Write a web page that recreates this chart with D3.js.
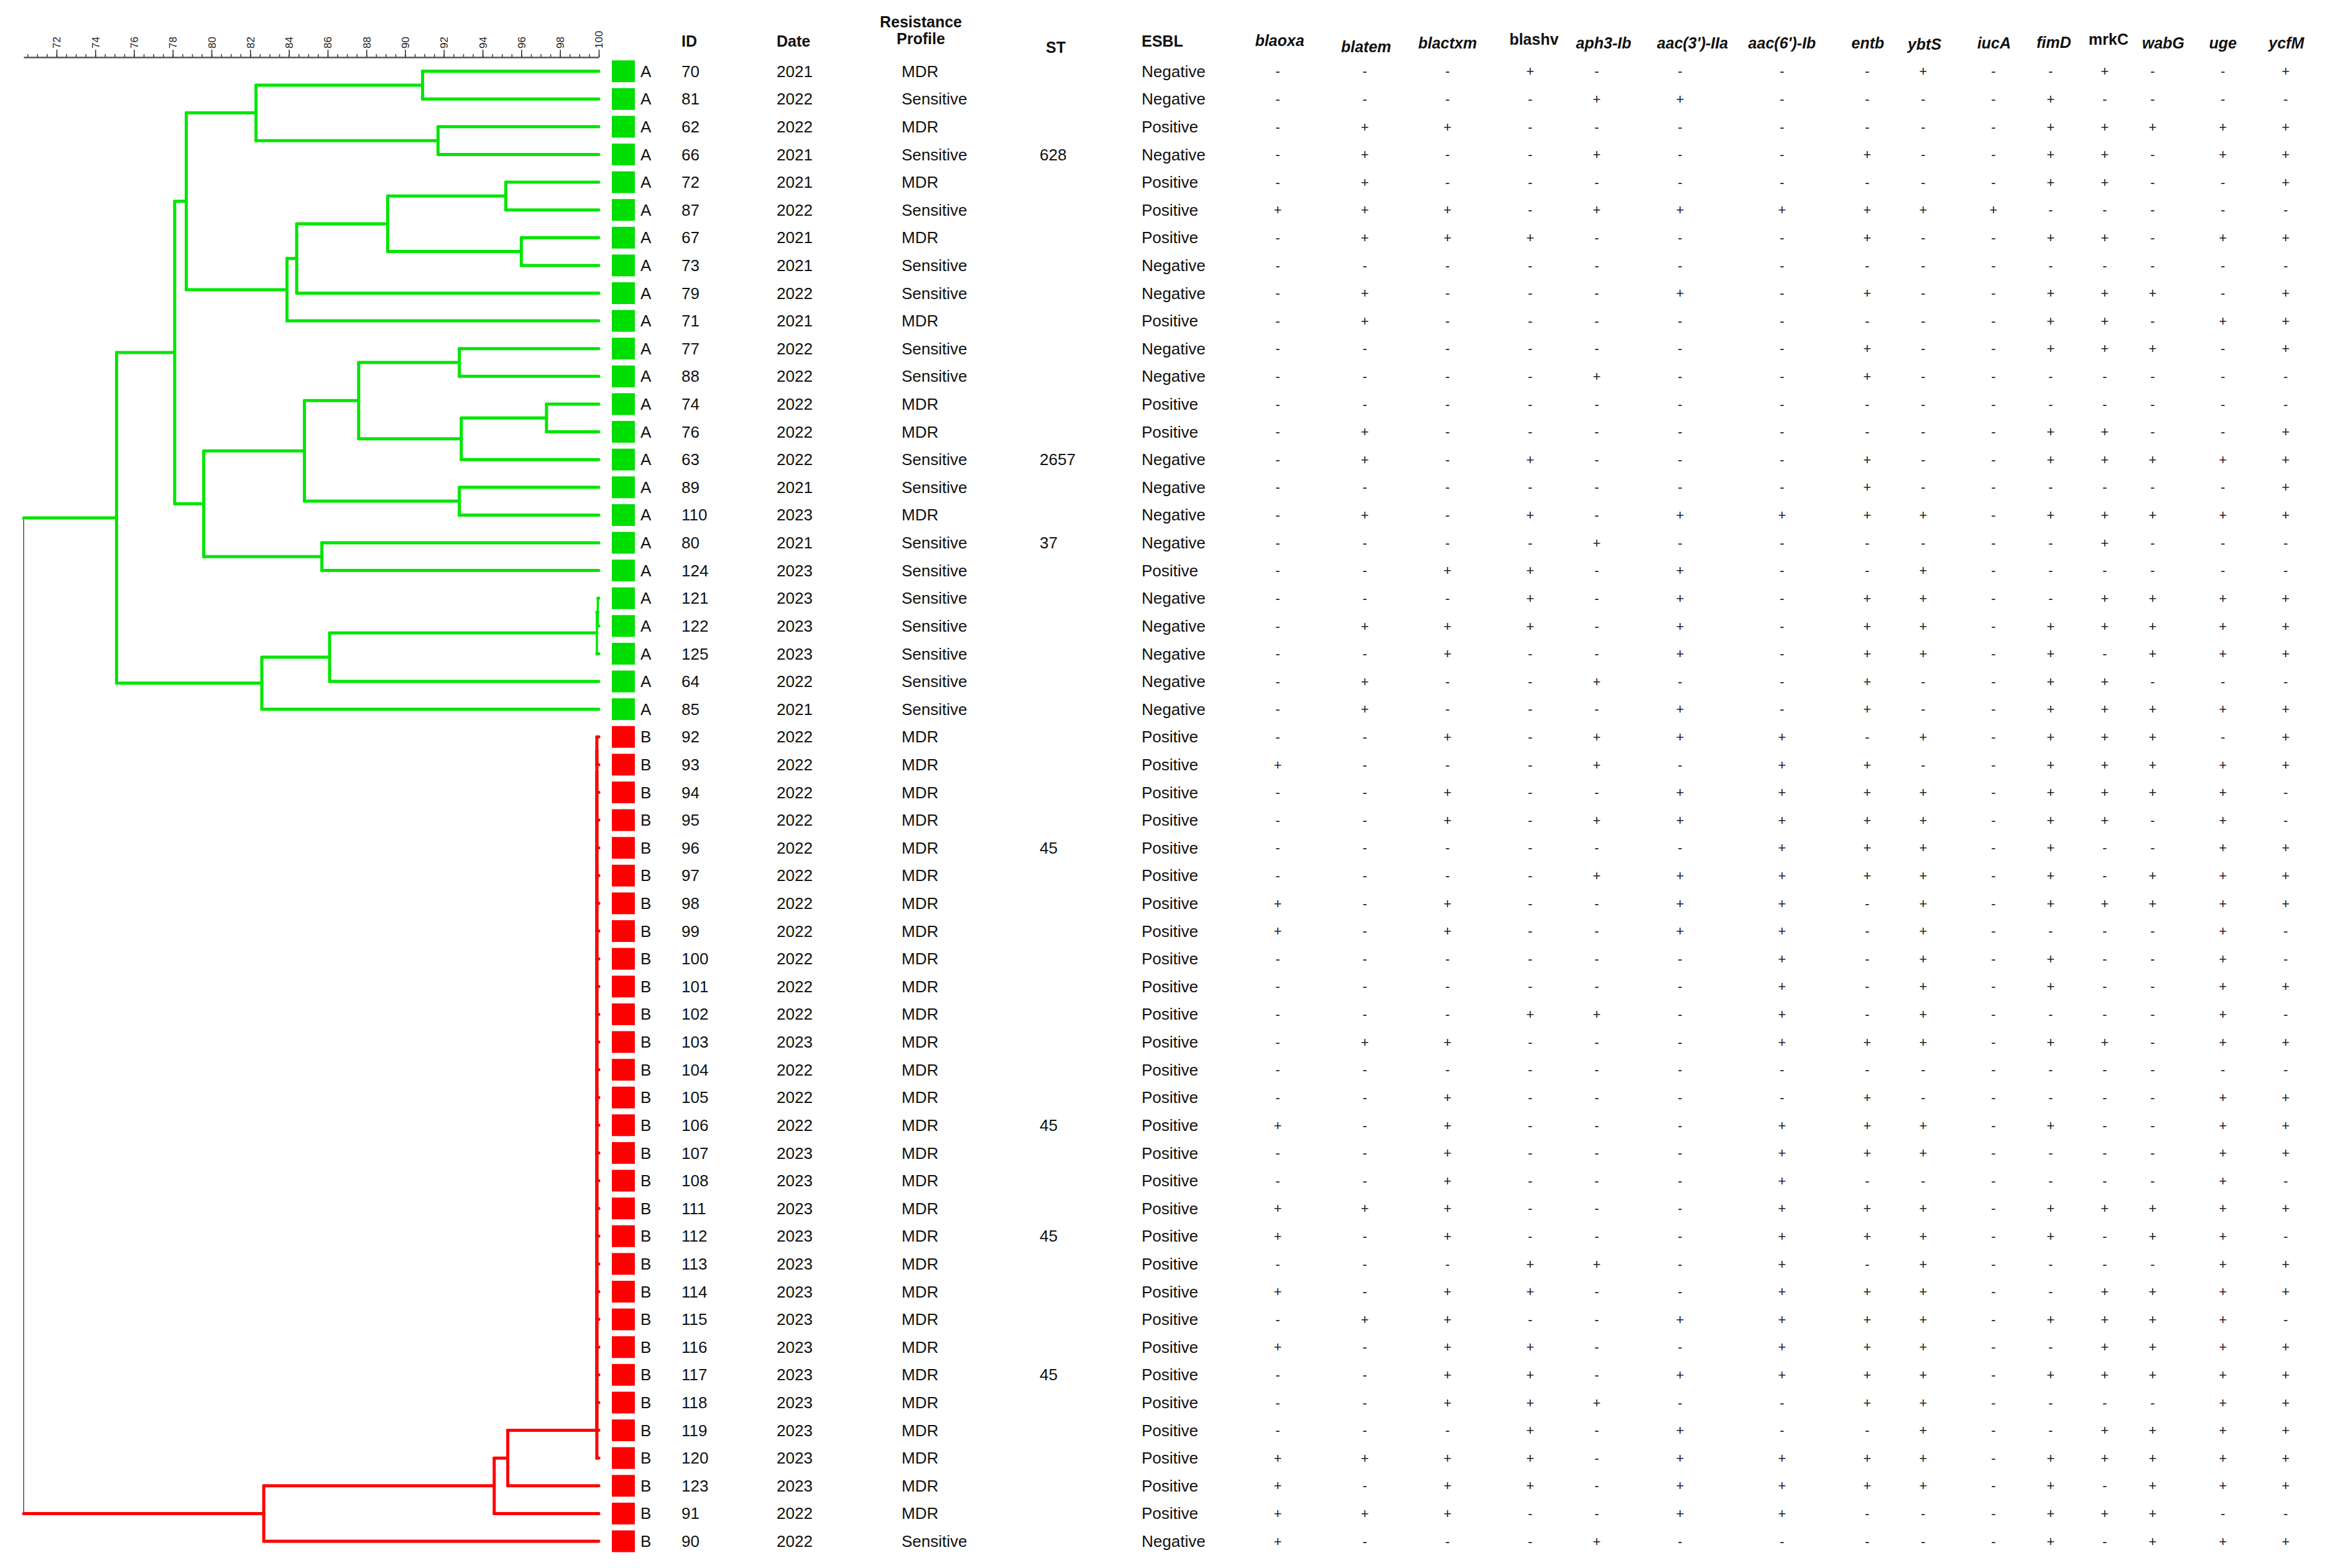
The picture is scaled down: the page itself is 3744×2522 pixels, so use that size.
<!DOCTYPE html>
<html>
<head>
<meta charset="utf-8">
<script src="https://cdn.jsdelivr.net/npm/d3@7"></script>
<style>
  body { margin: 0; background: #fff; }
  svg { display: block; font-family: "Liberation Sans", Arial, sans-serif; }
</style>
</head>
<body>
<svg id="chart" width="3744" height="2522"></svg>
<script>
// isolates in dendrogram order, top to bottom
const ids = ["70","81","62","66","72","87","67","73","79","71","77","88","74","76","63","89","110","80","124","121","122","125","64","85",
  "92","93","94","95","96","97","98","99","100","101","102","103","104","105","106","107","108","111","112","113","114","115","116","117","118","119","120","123","91","90"];
const clusters = "AAAAAAAAAAAAAAAAAAAAAAAABBBBBBBBBBBBBBBBBBBBBBBBBBBBBB".split("");
const years = ["2021","2022","2022","2021","2021","2022","2021","2021","2022","2021","2022","2022","2022","2022","2022","2021","2023","2021","2023","2023","2023","2023","2022","2021",
  "2022","2022","2022","2022","2022","2022","2022","2022","2022","2022","2022","2023","2022","2022","2022","2023","2023","2023","2023","2023","2023","2023","2023","2023","2023","2023","2023","2023","2022","2022"];
const profiles = ["MDR","Sensitive","MDR","Sensitive","MDR","Sensitive","MDR","Sensitive","Sensitive","MDR","Sensitive","Sensitive","MDR","MDR","Sensitive","Sensitive","MDR","Sensitive","Sensitive","Sensitive","Sensitive","Sensitive","Sensitive","Sensitive",
  "MDR","MDR","MDR","MDR","MDR","MDR","MDR","MDR","MDR","MDR","MDR","MDR","MDR","MDR","MDR","MDR","MDR","MDR","MDR","MDR","MDR","MDR","MDR","MDR","MDR","MDR","MDR","MDR","MDR","Sensitive"];
const stTypes = ["","","","628","","","","","","","","","","","2657","","","37","","","","","","",
  "","","","","45","","","","","","","","","","45","","","","45","","","","","45","","","","","",""];
const esbl = ["Negative","Negative","Positive","Negative","Positive","Positive","Positive","Negative","Negative","Positive","Negative","Negative","Positive","Positive","Negative","Negative","Negative","Negative","Positive","Negative","Negative","Negative","Negative","Negative",
  "Positive","Positive","Positive","Positive","Positive","Positive","Positive","Positive","Positive","Positive","Positive","Positive","Positive","Positive","Positive","Positive","Positive","Positive","Positive","Positive","Positive","Positive","Positive","Positive","Positive","Positive","Positive","Positive","Positive","Negative"];

const genes = ["blaoxa","blatem","blactxm","blashv","aph3-Ib","aac(3')-IIa","aac(6')-Ib","entb","ybtS","iucA","fimD","mrkC","wabG","uge","ycfM"];
// one string per isolate, one character per gene
const geneCalls = [
  "---+----+--+--+", "----++----+----", "-++-------+++++", "-+--+--+--++-++", "-+--------++--+",
  "+++-++++++-----", "-+++---+--++-++", "---------------", "-+---+-+--+++-+", "-+--------++-++",
  "-------+--+++-+", "----+--+-------", "---------------", "-+--------++--+", "-+-+---+--+++++",
  "-------+------+", "-+-+-++++-+++++", "----+------+---", "--++-+--+------", "---+-+-++--++++",
  "-+++-+-++-+++++", "--+--+-++-+-+++", "-+--+--+--++---", "-+---+-+--+++++",
  "--+-+++-+-+++-+", "+---+-++--+++++", "--+--++++-++++-", "--+-+++++-++-+-", "------+++-+--++",
  "----+++++-+-+++", "+-+--++-+-+++++", "+-+--++-+----+-", "------+-+-+--+-", "------+-+-+--++",
  "---++-+-+----+-", "-++---+++-++-++", "---------------", "--+----+-----++", "+-+---+++-+--++",
  "--+---+++----++", "--+---+------+-", "+++---+++-+++++", "+-+---+++-+-++-", "---++-+-+----++",
  "+-++--+++--++++", "-++--++++-++++-", "+-++--+++--++++", "--++-++++-+++++", "--+++--++----++",
  "---+-+--+--++++", "++++-++++-+++++", "+-++-++++-+-+++", "+++--++---+++--", "+---+-----+-+++"
];

// dendrogram: [left, right, similarity %]
const groupA1 = [
  [[70, 81, 90.9], [62, 66, 91.7], 82.3],
  [[[[72, 87, 95.2], [67, 73, 96.0], 89.1], 79, 84.4], 71, 83.9],
  78.7
];
const groupA2 = [
  [[[77, 88, 92.8], [[74, 76, 97.3], 63, 92.9], 87.6], [89, 110, 92.8], 84.8],
  [80, 124, 85.7],
  79.6
];
const groupA3 = [[[[121, 122, 99.95], 125, 99.9], 64, 86.1], 85, 82.6];
const clusterA = [[groupA1, groupA2, 78.1], groupA3, 75.1];

const bComb = [92,93,94,95,96,97,98,99,100,101,102,103,104,105,106,107,108,111,112,113,114,115,116,117,118,119,120];
const bCombSim = 99.9;
const bTail = [[123, 95.3], [91, 94.6], [90, 82.7]];
const rootSim = 70.3;

const simTicks = [72,74,76,78,80,82,84,86,88,90,92,94,96,98,100];

// ---- layout ----
const green = "#00e600", red = "#ff0000";
const colX = {square: 984, letter: 1030, id: 1096, date: 1249, profile: 1450, st: 1672, esbl: 1836};
const geneX = [2055, 2195, 2328, 2461, 2568, 2702, 2866, 3003, 3093, 3206, 3298, 3385, 3462, 3575, 3676];
const geneHeadX = [2058, 2197, 2328, 2467, 2579, 2722, 2866, 3004, 3095, 3207, 3303, 3391, 3479, 3575, 3677];
const geneHeadY = [74, 84, 78, 72, 78, 78, 78, 78, 80, 78, 77, 72, 78, 78, 78];
const uprightGenes = ["blashv", "mrkC"];

const svg = d3.select("#chart");
svg.append("rect").attr("width", 3744).attr("height", 2522).attr("fill", "#fff");

const x = d3.scaleLinear().domain([rootSim, 100]).range([38, 963]);
const y = d3.scalePoint().domain(ids).range([114.6, 2479]);
const clusterOf = new Map(ids.map((id, i) => [id, clusters[i]]));

// build the tree
let clusterB = bComb.slice(1).reduce((acc, id) => [acc, id, bCombSim], bComb[0]);
clusterB = bTail.reduce((acc, [id, s]) => [acc, id, s], clusterB);
const tree = [clusterA, clusterB, rootSim];

const root = d3.hierarchy(tree, d => Array.isArray(d) ? d.slice(0, 2) : null);
root.eachAfter(n => {
  n.sim = n.children ? n.data[2] : 100;
  n.py = n.children ? d3.mean(n.children, c => c.py) : y(String(n.data));
  const set = new Set(n.leaves().map(l => clusterOf.get(String(l.data))));
  n.cl = set.size === 1 ? [...set][0] : "mix";
});
const colorOf = c => c === "A" ? green : c === "B" ? red : "#777";

// axis
const axisG = svg.append("g").attr("transform", "translate(0,92)");
axisG.append("g")
  .call(d3.axisTop(x).ticks(60).tickSize(5).tickSizeOuter(0).tickFormat(""))
  .call(g => g.selectAll("line").attr("stroke", "#444").attr("stroke-width", 1.6))
  .call(g => g.select(".domain").attr("stroke", "#555").attr("stroke-width", 2.5));
axisG.append("g")
  .call(d3.axisTop(x).tickValues(simTicks).tickSize(12).tickSizeOuter(0))
  .call(g => g.select(".domain").remove())
  .call(g => g.selectAll("line").attr("stroke", "#333").attr("stroke-width", 1.6))
  .call(g => g.selectAll("text")
    .attr("transform", "rotate(-90)")
    .attr("x", 14).attr("y", 0).attr("dy", "0.35em")
    .attr("text-anchor", "start")
    .attr("fill", "#222")
    .style("font-size", "17px")
    .style("font-family", "'Liberation Sans', Arial, sans-serif"));

// dendrogram branches
const treeG = svg.append("g").attr("fill", "none").attr("stroke-linecap", "round");
treeG.selectAll("line.v")
  .data(root.descendants().filter(n => n.children))
  .join("line")
  .attr("class", "v")
  .attr("x1", n => x(n.sim)).attr("x2", n => x(n.sim))
  .attr("y1", n => d3.min(n.children, c => c.py))
  .attr("y2", n => d3.max(n.children, c => c.py))
  .attr("stroke", n => colorOf(n.cl))
  .attr("stroke-width", n => n.cl === "mix" ? 2 : (n.sim > 99.8 && n.cl === "A" ? 3.5 : 5));
treeG.selectAll("line.h")
  .data(root.descendants().filter(n => n.parent))
  .join("line")
  .attr("class", "h")
  .attr("x1", n => x(n.parent.sim)).attr("x2", n => x(n.sim))
  .attr("y1", n => n.py).attr("y2", n => n.py)
  .attr("stroke", n => colorOf(n.cl))
  .attr("stroke-width", 5);

// table header
const head = svg.append("g")
  .attr("font-weight", "bold").attr("font-size", 25).attr("fill", "#111");
head.append("text").attr("x", colX.id).attr("y", 75).text("ID");
head.append("text").attr("x", colX.date).attr("y", 75).text("Date");
head.append("text").attr("x", 1481).attr("y", 44).attr("text-anchor", "middle").text("Resistance");
head.append("text").attr("x", 1481).attr("y", 71).attr("text-anchor", "middle").text("Profile");
head.append("text").attr("x", 1698).attr("y", 85).attr("text-anchor", "middle").text("ST");
head.append("text").attr("x", colX.esbl).attr("y", 75).text("ESBL");
head.selectAll("text.gene")
  .data(genes)
  .join("text")
  .attr("class", "gene")
  .attr("x", (g, i) => geneHeadX[i])
  .attr("y", (g, i) => geneHeadY[i])
  .attr("text-anchor", "middle")
  .attr("font-style", g => uprightGenes.includes(g) ? "normal" : "italic")
  .text(g => g);

// rows
const rows = svg.append("g").selectAll("g.row")
  .data(ids)
  .join("g")
  .attr("class", "row")
  .attr("transform", id => `translate(0,${y(id)})`);

rows.append("rect")
  .attr("x", colX.square).attr("y", -17.5)
  .attr("width", 37).attr("height", 35)
  .attr("fill", (id, i) => clusters[i] === "A" ? "#00dd00" : red);

const cell = (xPos, fn) => rows.append("text")
  .attr("x", xPos).attr("dy", "0.35em")
  .attr("font-size", 26).attr("fill", "#111")
  .text(fn);
cell(colX.letter, (id, i) => clusters[i]);
cell(colX.id, id => id);
cell(colX.date, (id, i) => years[i]);
cell(colX.profile, (id, i) => profiles[i]);
cell(colX.st, (id, i) => stTypes[i]);
cell(colX.esbl, (id, i) => esbl[i]);

rows.selectAll("text.call")
  .data((id, i) => geneCalls[i].split(""))
  .join("text")
  .attr("class", "call")
  .attr("x", (c, j) => geneX[j])
  .attr("dy", "0.35em")
  .attr("text-anchor", "middle")
  .attr("font-size", 22).attr("fill", "#222")
  .text(c => c);
</script>
</body>
</html>
